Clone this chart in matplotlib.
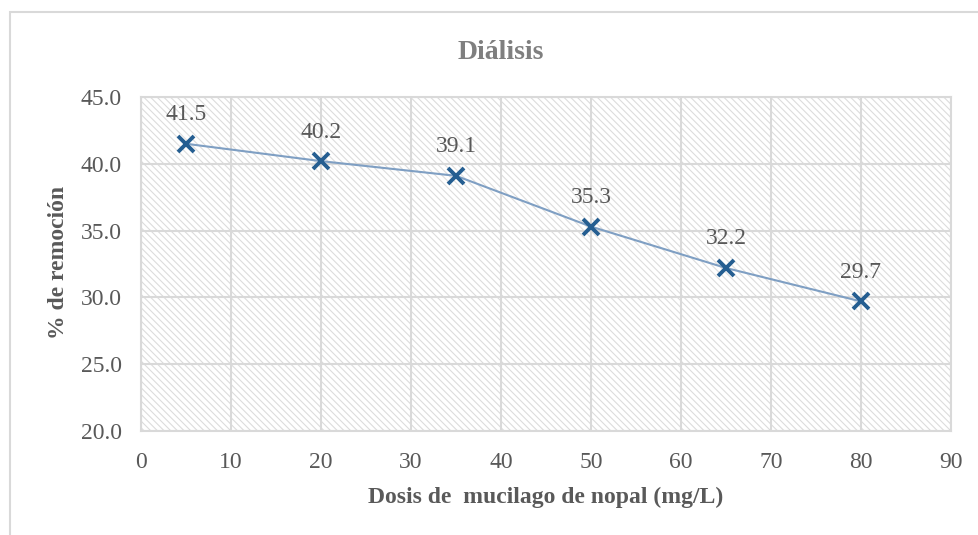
import matplotlib.pyplot as plt
from matplotlib.patches import Rectangle

plt.rcParams['font.family'] = ['Liberation Serif', 'DejaVu Serif']
plt.rcParams['hatch.linewidth'] = 0.8

dosis = [5, 20, 35, 50, 65, 80]
remocion = [41.5, 40.2, 39.1, 35.3, 32.2, 29.7]

gris = '#595959'
borde = '#d9d9d9'

fig = plt.figure(figsize=(9.79, 5.35), dpi=100)
ax = fig.add_axes([141/979, 1 - 431/535, 810/979, 334/535])

# marco exterior del grafico
fig.patches.append(Rectangle((10/979, -0.1), 1.2, 1 - 12/535 + 0.1,
                             transform=fig.transFigure, fill=False,
                             edgecolor=borde, linewidth=1.5))

# fondo rayado del area de trazado
ax.add_patch(Rectangle((0, 0), 1, 1, transform=ax.transAxes, facecolor='white',
                       edgecolor='#dcdcdc', linewidth=0, hatch='\\\\\\\\\\',
                       zorder=0))

ax.plot(dosis, remocion, color='#7f9fc3', linewidth=1.5, zorder=3)
ax.plot(dosis, remocion, linestyle='none', marker='x', markersize=12,
        markeredgewidth=2.8, color='#255e91', zorder=4)

for x, y in zip(dosis, remocion):
    ax.annotate(f'{y:.1f}', (x, y), xytext=(0, 17), textcoords='offset points',
                ha='center', va='baseline', fontsize=17, color=gris)

ax.set_xlim(0, 90)
ax.set_ylim(20, 45)
ax.set_xticks(range(0, 91, 10))
ax.set_yticks([20, 25, 30, 35, 40, 45])
ax.set_yticklabels([f'{v:.1f}' for v in ax.get_yticks()])
ax.grid(True, color=borde, linewidth=1.5)
ax.set_axisbelow(True)
ax.tick_params(length=0, labelsize=17, labelcolor=gris)
ax.tick_params(axis='x', pad=15)
ax.tick_params(axis='y', pad=14)
for s in ax.spines.values():
    s.set_color(borde)
    s.set_linewidth(1.5)

fig.text(546/979, 1 - 497/535, 'Dosis de  mucilago de nopal (mg/L)', ha='center',
         va='center', fontsize=17, fontweight='bold', color=gris)
fig.text(59/979, 1 - 262/535, '% de remoción', ha='center', va='center',
         rotation=90, fontsize=17, fontweight='bold', color=gris)
fig.text(501/979, 1 - 52/535, 'Diálisis', ha='center', va='center',
         fontsize=20, fontweight='bold', color='#7f7f7f')

fig.savefig('out.png', dpi=100)
